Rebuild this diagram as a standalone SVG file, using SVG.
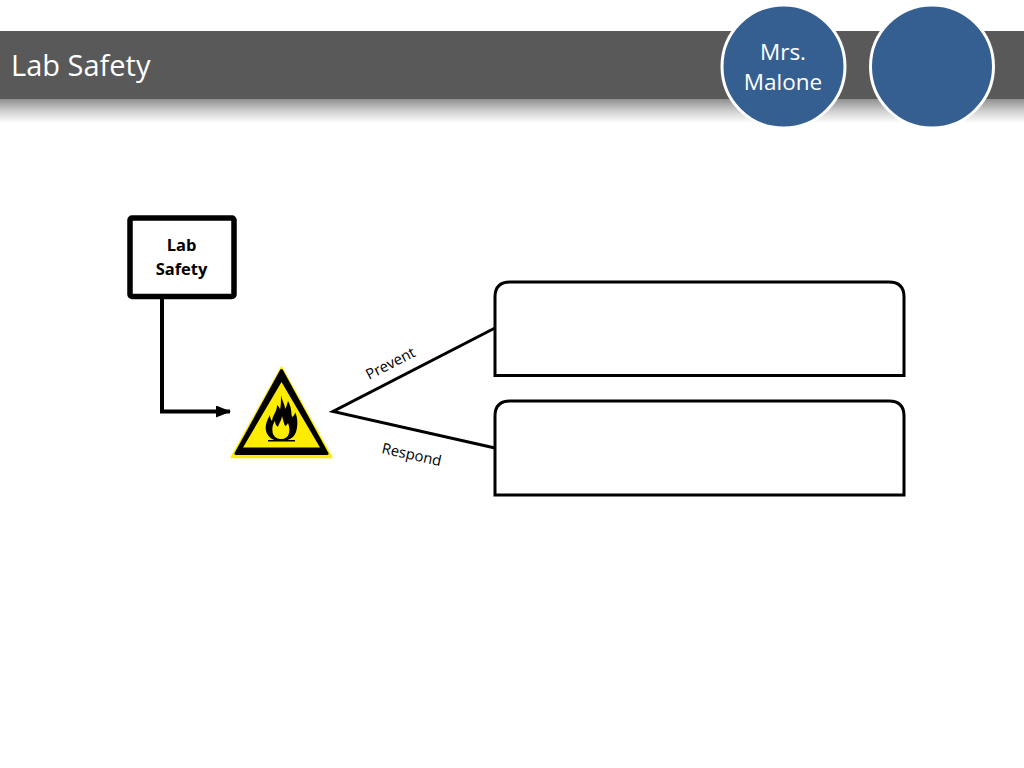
<svg xmlns="http://www.w3.org/2000/svg" width="1024" height="768" viewBox="0 0 1024 768">
<style>
.t{font-family:"Open Sans","Liberation Sans",sans-serif}
.c{fill:#365f91;stroke:#fff;stroke-width:3}
.b{fill:#fff;stroke:#000;stroke-width:3}
.l{fill:none;stroke:#000;stroke-width:3}
</style>
<defs>
<linearGradient id="sh" x1="0" y1="0" x2="0" y2="1"><stop offset="0" stop-color="#8f8f8f"/><stop offset="0.5" stop-color="#cfcfcf"/><stop offset="1" stop-color="#fff"/></linearGradient>
<marker id="arrow" markerUnits="userSpaceOnUse" markerWidth="15" markerHeight="12" refX="14" refY="6" orient="auto"><path d="M0 0L15 6L0 12Z" fill="#000"/></marker>
</defs>
<rect width="1024" height="768" fill="#fff"/>
<g id="header">
<rect x="0" y="99" width="1024" height="24" fill="url(#sh)"/>
<rect x="0" y="31" width="1024" height="68" fill="#595959"/>
<text class="t" x="11" y="76" font-size="29" fill="#fff">Lab Safety</text>
</g>
<g id="circle-malone">
<circle class="c" cx="783.500" cy="66.500" r="61.500"/>
<text class="t" text-anchor="middle" font-size="22.500" fill="#fff"><tspan x="783" y="60">Mrs.</tspan><tspan x="783" y="90">Malone</tspan></text>
</g>
<g id="circle-empty"><circle class="c" cx="932" cy="66.500" r="61.500"/></g>
<g id="connectors">
<path fill="none" stroke="#000" stroke-width="4" d="M162 297V411.500H230" marker-end="url(#arrow)"/>
<path class="l" d="M495 328L333 411.500L495 448"/>
<text class="t" font-size="14.800" fill="#000" transform="translate(369 380) rotate(-27)">Prevent</text>
<text class="t" font-size="14.800" fill="#000" transform="translate(381 453) rotate(12.500)">Respond</text>
</g>
<g id="node-lab-safety">
<rect x="130" y="218" width="104" height="78.500" rx="2" fill="#fff" stroke="#000" stroke-width="5.500"/>
<text class="t" text-anchor="middle" font-size="16.500" font-weight="700" fill="#000"><tspan x="181.500" y="251">Lab</tspan><tspan x="181.500" y="275">Safety</tspan></text>
</g>
<g id="node-fire-warning">
<path d="M281.500 367L332 457.500H231Z" fill="#ffed00" stroke="#ffed00" stroke-width="1.500" stroke-linejoin="round"/>
<path d="M281.500 370.500L327 453.500H236Z" fill="#000" stroke="#000" stroke-width="3" stroke-linejoin="round"/>
<path d="M281.500 382L320 447.500H243Z" fill="#ffed00"/>
<path fill="#000" fill-rule="evenodd" d="M281 395C282 401 285 404 285 409C287 406 287 404 288 401C292 408 291 413 292 417C294 416 295 414 295 412C298 418 298 426 296 432C294 438 288 441 281 441C274 441 268 438 266 431C265 425 267 420 270 415C270 418 271 420 272 421C273 414 277 412 277 405C279 407 280 408 280 410C281 405 281 400 281 395ZM282 416C281 422 279 423 278 427C276 425 275 424 275 421C272 425 272 430 273 434C275 438 278 439 281 439C285 439 288 437 289 433C290 429 289 426 288 423C287 425 286 426 285 426C284 423 283 420 282 416Z"/>
<rect x="268" y="440" width="27" height="1.500" fill="#000"/>
</g>
<g id="node-prevent"><path class="b" d="M495 375.500V297Q495 282 510 282H889Q904 282 904 297V375.500Z"/></g>
<g id="node-respond"><path class="b" d="M495 495V416Q495 401 510 401H889Q904 401 904 416V495Z"/></g>
</svg>
